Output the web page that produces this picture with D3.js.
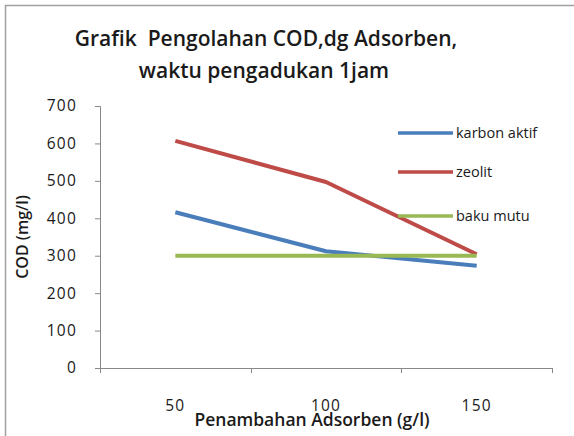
<!DOCTYPE html>
<html>
<head>
<meta charset="utf-8">
<script src="https://cdn.jsdelivr.net/npm/d3@7"></script>
<style>
  html, body { margin: 0; padding: 0; background: #fff; }
  svg { display: block; }
  text { font-family: "Open Sans", "DejaVu Sans", sans-serif; fill: #1a1a1a; white-space: pre; }
</style>
</head>
<body>
<svg id="chart" width="574" height="436"></svg>
<script>
// Data
const categories = ["50", "100", "150"];
const karbonAktif = [416, 312, 273];
const zeolit = [607, 497, 304];
const bakuMutu = [300, 300, 300];
const yTicks = [0, 100, 200, 300, 400, 500, 600, 700];
const seriesNames = ["karbon aktif", "zeolit", "baku mutu"];
const seriesColors = ["#4a7ebb", "#be4b48", "#98b954"];

const series = [karbonAktif, zeolit, bakuMutu].map((values, i) => ({
  name: seriesNames[i], color: seriesColors[i], values
}));

const svg = d3.select("#chart");

// Chart frame
svg.append("path")
  .attr("d", "M5.5,440 V5.5 H580")
  .attr("fill", "none")
  .attr("stroke", "#a0a0a0")
  .attr("stroke-width", 1.5);

// Title
const title = svg.append("text")
  .attr("text-anchor", "middle")
  .attr("font-size", 21)
  .attr("font-weight", 600);
title.append("tspan").attr("x", 266).attr("y", 46).text("Grafik  Pengolahan COD,dg Adsorben,");
title.append("tspan").attr("x", 264).attr("y", 78).text("waktu pengadukan 1jam");

// Scales
const plot = { left: 100, right: 552, top: 106, bottom: 368 };
const x = d3.scaleBand().domain(categories).range([plot.left, plot.right]);
const y = d3.scaleLinear().domain([0, 700]).range([plot.bottom, plot.top]);

// Y axis
const yAxis = svg.append("g")
  .attr("transform", `translate(${plot.left},0)`)
  .call(d3.axisLeft(y).tickValues(yTicks).tickSize(5).tickPadding(18));
yAxis.select(".domain").attr("stroke", "#888").attr("d", `M-5,${plot.top}.5H0.5V${plot.bottom}`);
yAxis.selectAll(".tick line").attr("stroke", "#888");
yAxis.selectAll(".tick text")
  .attr("font-size", 15.5)
  .attr("letter-spacing", 1.2)
  .attr("fill", "#333")
  .style("font-family", "'Open Sans', sans-serif");

// X axis: category boundary ticks
const xAxisG = svg.append("g").attr("transform", `translate(0,${plot.bottom})`);
xAxisG.append("line")
  .attr("x1", plot.left - 5).attr("x2", plot.right)
  .attr("y1", 0.5).attr("y2", 0.5)
  .attr("stroke", "#888");
const boundaries = categories.map(c => x(c)).concat([plot.right]);
xAxisG.selectAll("line.tk").data(boundaries).join("line")
  .attr("class", "tk")
  .attr("x1", d => Math.round(d) + 0.5).attr("x2", d => Math.round(d) + 0.5)
  .attr("y1", 0).attr("y2", 5)
  .attr("stroke", "#888");
xAxisG.selectAll("text").data(categories).join("text")
  .attr("x", d => x(d) + x.bandwidth() / 2)
  .attr("y", 43)
  .attr("text-anchor", "middle")
  .attr("font-size", 15.5)
  .attr("letter-spacing", 1.2)
  .attr("fill", "#333")
  .text(d => d);

// Axis titles
svg.append("text")
  .attr("x", 312).attr("y", 426)
  .attr("text-anchor", "middle")
  .attr("font-size", 17.5)
  .attr("font-weight", 600)
  .text("Penambahan Adsorben (g/l)");
svg.append("text")
  .attr("transform", "translate(28,237) rotate(-90)")
  .attr("text-anchor", "middle")
  .attr("font-size", 16)
  .attr("font-weight", 600)
  .text("COD (mg/l)");

// Lines
const line = d3.line()
  .x((d, i) => x(categories[i]) + x.bandwidth() / 2)
  .y(d => y(d));
svg.append("g").selectAll("path").data(series).join("path")
  .attr("d", d => line(d.values))
  .attr("fill", "none")
  .attr("stroke", d => d.color)
  .attr("stroke-width", 4)
  .attr("stroke-linejoin", "round");

// Legend
const legendY = [133, 172, 216];
const legend = svg.append("g").selectAll("g").data(series).join("g")
  .attr("transform", (d, i) => `translate(398,${legendY[i]})`);
legend.append("line")
  .attr("x1", 0).attr("x2", 55)
  .attr("stroke", d => d.color)
  .attr("stroke-width", 3.5);
legend.append("text")
  .attr("x", 58).attr("y", 5)
  .attr("font-size", 14.5)
  .text(d => d.name);
</script>
</body>
</html>
